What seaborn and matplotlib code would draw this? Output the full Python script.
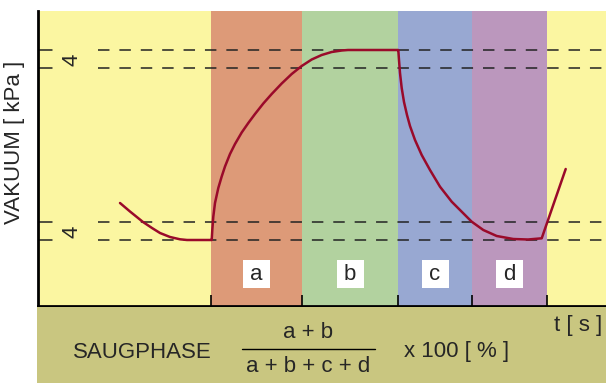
import matplotlib
matplotlib.use("Agg")
import matplotlib.pyplot as plt
from matplotlib.patches import Rectangle
from matplotlib.lines import Line2D
import pandas as pd
import seaborn as sns

# Phase boundaries along the time axis and their labels / colours
phase_edges = [0.0, 17.3, 26.4, 36.0, 43.4, 50.9, 56.8]
phase_labels = ["", "a", "b", "c", "d", ""]
phase_colors = ["#fbf6a1", "#dd9a78", "#b2d29f", "#98a8d2", "#bb97bd", "#fbf6a1"]

# Vacuum reference levels (two pairs of dashed limits)
upper_levels = [25.6, 23.8]
lower_levels = [8.4, 6.6]
level_label = "4"

# Vacuum curve over one suction cycle
t_values = [8.2, 9.2, 10.5, 11.4, 12.2, 13.2, 14.2, 14.9, 17.3,
            17.37, 17.43, 17.53, 17.7, 18.03, 18.37, 18.7, 19.2, 19.7, 20.37,
            21.03, 21.7, 22.53, 23.37, 24.37, 25.37, 26.37, 27.37, 28.37,
            29.37, 30.37, 31.0,
            36.0, 36.03, 36.1, 36.2, 36.37, 36.6, 36.9, 37.2, 37.7, 38.37,
            39.2, 40.2, 41.37, 42.53, 43.37, 44.53, 45.87, 47.53, 49.0, 50.37,
            52.77]
vacuum_values = [10.3, 9.45, 8.4, 7.8, 7.3, 6.9, 6.67, 6.6, 6.6,
                 6.6, 7.6, 8.93, 10.3, 11.8, 12.95, 13.95, 15.2, 16.2, 17.35,
                 18.3, 19.2, 20.25, 21.2, 22.25, 23.2, 24.0, 24.65, 25.1,
                 25.4, 25.55, 25.6,
                 25.6, 25.6, 24.6, 23.3, 21.8, 20.4, 19.1, 18.0, 16.6, 15.1,
                 13.6, 11.93, 10.43, 9.27, 8.43, 7.6, 7.0, 6.7, 6.65, 6.77,
                 13.7]

sns.set_style("white")
plt.rcParams["font.family"] = ["Liberation Sans", "DejaVu Sans"]

W, H = 606, 385
fig = plt.figure(figsize=(W / 100, H / 100), dpi=100)


def fx(px):
    return px / W


def fy(py):
    return 1 - py / H


# Olive footer band carrying the formula
fig.patches.append(Rectangle((fx(37), fy(383)), fx(606) - fx(37), fy(307) - fy(383),
                             transform=fig.transFigure, facecolor="#c9c680",
                             edgecolor="none", zorder=0))

ax = fig.add_axes([fx(38), fy(306), fx(606) - fx(38), fy(11) - fy(306)])
ax.set_xlim(phase_edges[0], phase_edges[-1])
ax.set_ylim(0, 29.5)

for i, (lab, col) in enumerate(zip(phase_labels, phase_colors)):
    x0, x1 = phase_edges[i], phase_edges[i + 1]
    ax.axvspan(x0, x1, color=col, lw=0, zorder=0)
    if lab:
        xc = (x0 + x1) / 2
        ax.add_patch(Rectangle((xc - 1.35, 1.8), 2.7, 2.8, facecolor="white",
                               edgecolor="none", zorder=2))
        ax.text(xc, 3.2, lab, ha="center", va="center", fontsize=16, zorder=3)

# Dashed limit lines, interrupted where the level label sits
for lvl in upper_levels + lower_levels:
    ax.plot([0, 1.4], [lvl, lvl], color="#222222", lw=1.1, zorder=1)
    ax.plot([6.0, phase_edges[-1]], [lvl, lvl], color="#222222", lw=1.1,
            dashes=(7.5, 6.5), zorder=1)
for pair in (upper_levels, lower_levels):
    ax.text(3.4, sum(pair) / 2 - 0.1, level_label, rotation=90, ha="center",
            va="center", fontsize=16)

curve = pd.DataFrame({"t": t_values, "vakuum": vacuum_values})
sns.lineplot(data=curve, x="t", y="vakuum", sort=False, estimator=None,
             color="#9a0a2a", lw=1.8, ax=ax, zorder=4)

ax.set_xlabel("")
ax.set_ylabel("")
ax.set_yticks([])
ax.set_xticks(phase_edges[1:-1])
ax.set_xticklabels([])
ax.tick_params(axis="x", direction="in", length=8, width=1.2, color="black",
               bottom=True)
for side in ("top", "right"):
    ax.spines[side].set_visible(False)
for side in ("left", "bottom"):
    ax.spines[side].set_color("black")
    ax.spines[side].set_linewidth(2.0)

fig.text(fx(15), fy(142), "VAKUUM [ kPa ]", rotation=90, ha="center",
         va="center", fontsize=16)
fig.text(fx(578), fy(326), "t [ s ]", ha="center", va="center", fontsize=16)
fig.text(fx(142), fy(352), "SAUGPHASE", ha="center", va="center", fontsize=16)
fig.text(fx(308), fy(333), "a + b", ha="center", va="center", fontsize=16)
fig.text(fx(308), fy(366), "a + b + c + d", ha="center", va="center", fontsize=16)
fig.add_artist(Line2D([fx(242), fx(375)], [fy(349), fy(349)],
                      transform=fig.transFigure, color="black", lw=1.0))
fig.text(fx(457), fy(352), "x 100 [ % ]", ha="center", va="center", fontsize=16)

fig.savefig("out.png", dpi=100)
